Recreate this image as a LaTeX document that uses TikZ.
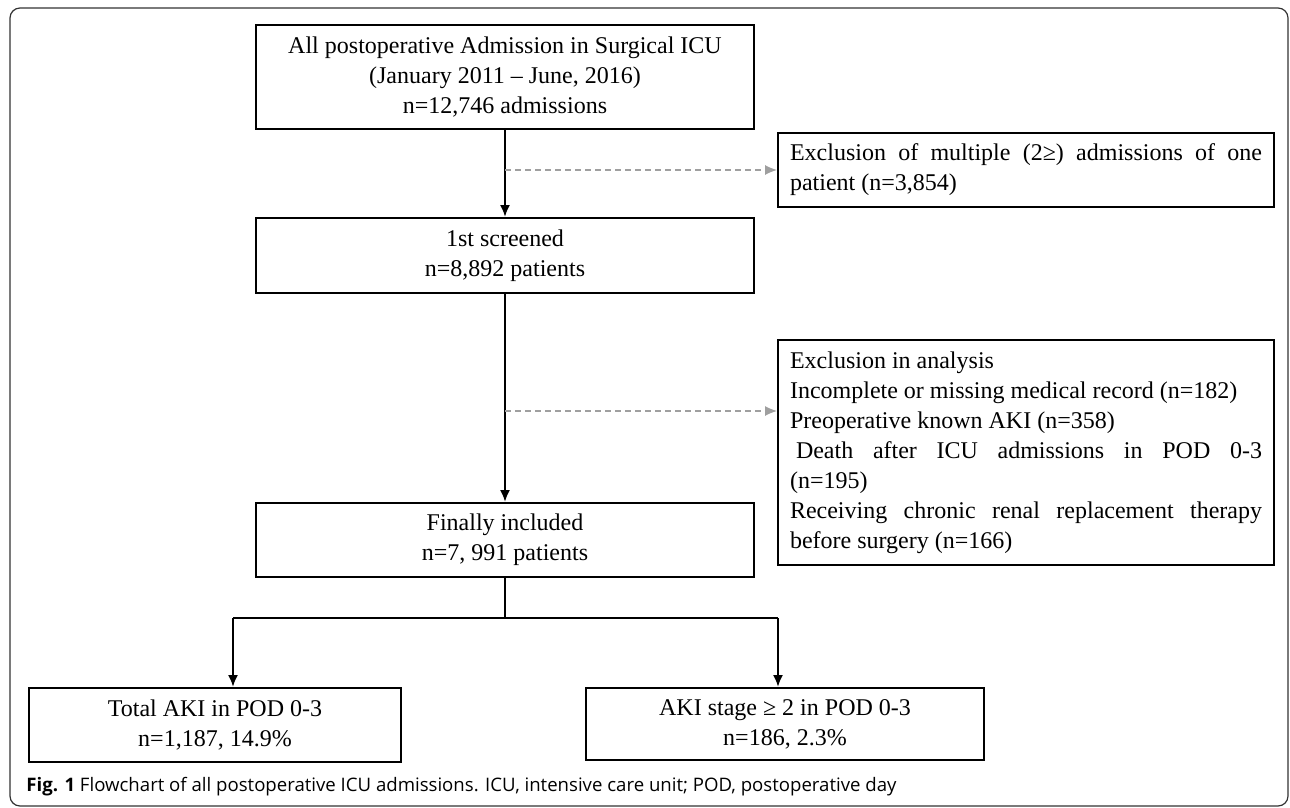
\documentclass[tikz,border=0pt]{standalone}
\usepackage{fontspec}
\setmainfont{Liberation Serif}
\newfontfamily\capfont{Open Sans}
\usetikzlibrary{arrows,arrows.meta}
\usetikzlibrary{positioning}
\usetikzlibrary{shapes,calc}
\setlength{\parindent}{0pt}
\hyphenpenalty=10000
\exhyphenpenalty=10000

\tikzset{
  stepbox/.style={draw, line width=1pt, align=center, minimum width=249pt, inner sep=2pt, font=\fontsize{12}{15}\selectfont},
  exclbox/.style={draw, line width=1pt, text width=236pt, align=justify, inner xsep=6pt, inner ysep=2pt, font=\fontsize{12}{15}\selectfont},
  exclarrow/.style={-{Latex[length=6pt,width=5pt]}, gray!75, line width=0.6pt, dash pattern=on 3pt off 2pt}
}

\begin{document}
\begin{tikzpicture}[x=1pt,y=1pt,>={Latex[length=6pt,width=5pt]},node distance=89.25pt]
\useasboundingbox (0,0) rectangle (645,-404);
\draw[rounded corners=5pt, line width=0.6pt, black!80] (5,-4) rectangle (644,-403);

\node[stepbox, minimum height=52pt] (all) at (252.5,-38.5) {All postoperative Admission in Surgical ICU\\(January 2011 – June, 2016)\\n=12,746 admissions};
\node[stepbox, minimum height=37.5pt] (screen) [below of = all] {1st screened\\n=8,892 patients};
\node[stepbox, minimum height=37pt, node distance=142.25pt] (incl) [below of = screen] {Finally included\\n=7, 991 patients};

\node[exclbox, minimum height=37pt] (multi) at (513,-85) {Exclusion of multiple (2≥) admissions of one\linebreak patient (n=3,854)};
\node[exclbox, minimum height=112.5pt] (analysis) at (513,-226.25) {Exclusion in analysis\par
Incomplete or missing medical record (n=182)\par
Preoperative known AKI (n=358)\par
\hspace*{3pt}Death after ICU admissions in POD 0-3\linebreak (n=195)\par
Receiving chronic renal replacement therapy\linebreak before surgery (n=166)};

\node[stepbox, minimum width=186pt, minimum height=37pt] (total) at (107.5,-362.5) {Total AKI in POD 0-3\\n=1,187, 14.9\%};
\node[stepbox, minimum width=199pt, minimum height=36pt] (stage) at (392.5,-362) {AKI stage ≥ 2 in POD 0-3\\n=186, 2.3\%};

% main flow
\draw[->, line width=1pt] (all) -- (screen);
\draw[->, line width=1pt] (screen) -- (incl);

% exclusions
\coordinate (d1) at (252.5,-85);
\coordinate (d2) at (252.5,-205.5);
\draw[exclarrow] (d1) -- (multi.west);
\draw[exclarrow] (d2) -- (d2 -| analysis.west);

% split
\coordinate (split) at (252.5,-309);
\coordinate (left) at (116.5,-309);
\coordinate (right) at (389,-309);
\draw[line width=1pt] (incl) -- (split);
\draw[line width=1pt] (left) -- (right);
\draw[->, line width=1pt] (left) -- (left |- total.north);
\draw[->, line width=1pt] (right) -- (right |- stage.north);

\node[anchor=west, inner sep=0pt, font=\capfont\fontsize{9.3}{11}\selectfont] (caption) at (13,-393.5) {\textbf{Fig. 1} Flowchart of all postoperative ICU admissions. ICU, intensive care unit; POD, postoperative day};
\end{tikzpicture}
\end{document}
